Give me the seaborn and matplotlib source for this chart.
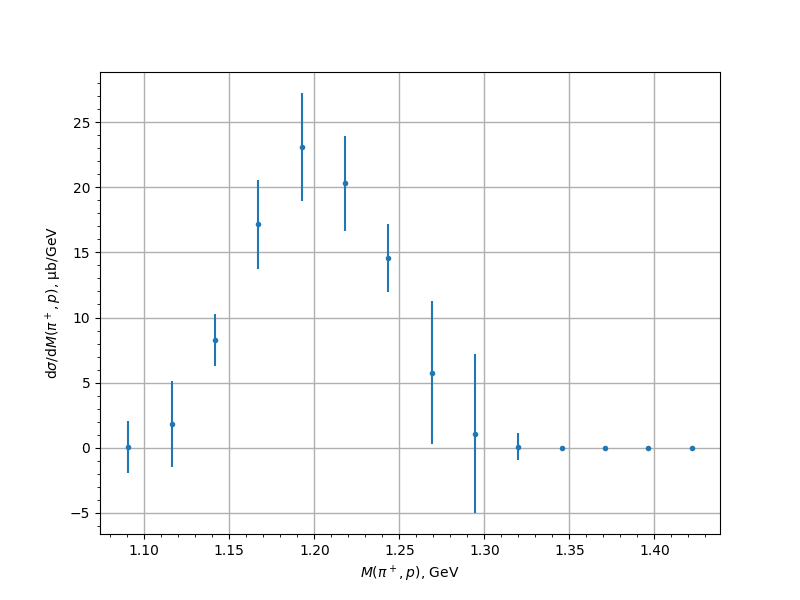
"""
Differential cross section vs invariant mass M(pi+, p)
"""
import numpy as np
import pandas as pd
import matplotlib
matplotlib.use('Agg')
import matplotlib.pyplot as plt
import seaborn as sns
from matplotlib.ticker import MultipleLocator

# bin centres, GeV
mass = [1.0905, 1.116, 1.1415, 1.167, 1.1925, 1.218, 1.2435,
        1.269, 1.2945, 1.32, 1.3455, 1.371, 1.3965, 1.422]
# d sigma / dM, mub/GeV
xsec = [0.05, 1.85, 8.3, 17.15, 23.1, 20.3, 14.55,
        5.77, 1.08, 0.08, 0.0, 0.0, 0.0, 0.0]
xsec_err = [2.0, 3.3, 2.0, 3.4, 4.15, 3.65, 2.6,
            5.5, 6.1, 1.05, 0.0, 0.0, 0.0, 0.0]

df = pd.DataFrame({'mass': mass, 'xsec': xsec, 'err': xsec_err})

fig, ax = plt.subplots(figsize=(8, 6), dpi=100)

ax.errorbar(df['mass'], df['xsec'], yerr=df['err'], fmt='none',
            ecolor='#1f77b4', elinewidth=1.5, zorder=2)
sns.scatterplot(data=df, x='mass', y='xsec', ax=ax, color='#1f77b4',
                s=16, linewidth=0, zorder=3)

ax.xaxis.set_minor_locator(MultipleLocator(0.01))
ax.yaxis.set_minor_locator(MultipleLocator(1))
ax.grid(True, which='major', color='#b0b0b0', linewidth=1.0)
ax.set_axisbelow(True)

ax.set_xlabel(r'$M(\pi^+,p)$, GeV')
ax.set_ylabel(r'd$\sigma$/d$M(\pi^+,p)$, μb/GeV')

plt.savefig('out.png', dpi=100)
plt.close()
